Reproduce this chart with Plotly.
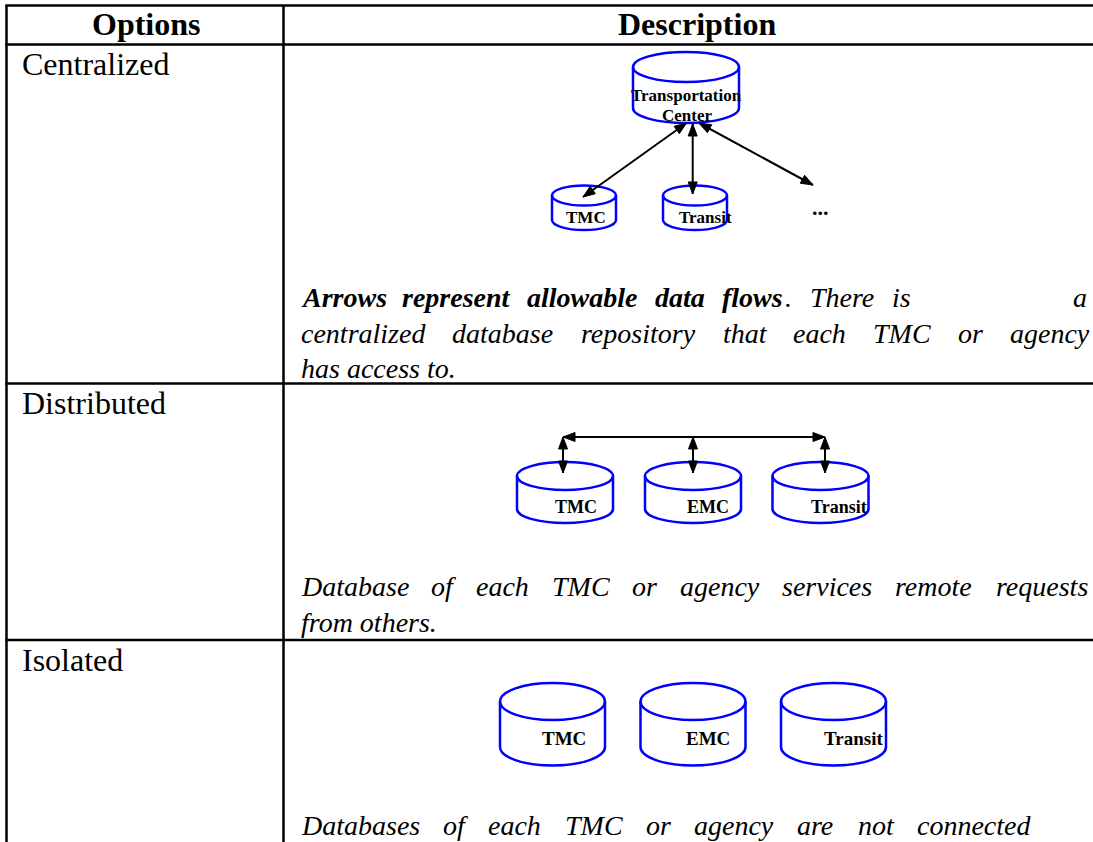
import math
import plotly.graph_objects as go

# ---------------- content ----------------
HEADERS = ["Options", "Description"]
OPTIONS = ["Centralized", "Distributed", "Isolated"]
HUB_LINES = ["Transportation", "Center"]
CENTRAL_NODES = ["TMC", "Transit", "..."]
DIST_NODES = ["TMC", "EMC", "Transit"]
ISO_NODES = ["TMC", "EMC", "Transit"]
CENTRAL_BOLD = ["Arrows", "represent", "allowable", "data", "flows"]
CENTRAL_L1_TAIL = [".", "There", "is"]
CENTRAL_L1_LAST = "a"
CENTRAL_L2 = "centralized database repository that each TMC or agency"
CENTRAL_L3 = "has access to."
DIST_L1 = "Database of each TMC or agency services remote requests"
DIST_L2 = "from others."
ISO_L1 = "Databases of each TMC or agency are not connected"

W, H = 1093, 842
BLUE = "#0000ff"
SERIF = "Liberation Serif"

# Times metrics (per 1000 em) used to lay out justified italic text
IT = dict(a=500, b=500, c=444, d=500, e=444, f=278, g=500, h=500, i=278, l=278,
          m=722, n=500, o=500, p=500, q=500, r=389, s=389, t=278, u=500, v=444,
          w=667, y=444, z=389, A=611, C=667, D=722, M=833, T=556)
IT["."] = 250
BI = dict(A=667, r=389, o=500, w=667, s=389, e=444, p=500, n=556, t=278, a=500,
          l=278, b=500, d=500, f=333)


def tw(word, table, size):
    return sum(table.get(ch, 500) for ch in word) / 1000.0 * size


shapes = []
annotations = []


def line(x0, y0, x1, y1, color="black", width=2.5):
    shapes.append(dict(type="line", x0=x0, y0=y0, x1=x1, y1=y1, xref="x", yref="y",
                       line=dict(color=color, width=width)))


def text(x, y, s, size, bold=False, italic=False, xanchor="center"):
    t = s
    if bold:
        t = "<b>" + t + "</b>"
    if italic:
        t = "<i>" + t + "</i>"
    annotations.append(dict(x=x, y=y, xref="x", yref="y", text=t, showarrow=False,
                            xanchor=xanchor, yanchor="middle", borderpad=0,
                            font=dict(family=SERIF, size=size, color="black")))


def arrow_head(tx, ty, fx, fy, L=12, hw=4.5):
    dx, dy = tx - fx, ty - fy
    n = math.hypot(dx, dy)
    ux, uy = dx / n, dy / n
    bx, by = tx - ux * L, ty - uy * L
    px, py = -uy * hw, ux * hw
    path = f"M {tx},{ty} L {bx+px},{by+py} L {bx-px},{by-py} Z"
    shapes.append(dict(type="path", path=path, xref="x", yref="y",
                       fillcolor="black", line=dict(color="black", width=1)))


def dbl_arrow(x0, y0, x1, y1, width=2):
    line(x0, y0, x1, y1, width=width)
    arrow_head(x1, y1, x0, y0)
    arrow_head(x0, y0, x1, y1)


def cylinder(cx, top_cy, bot_cy, rx, ry, width=2.5):
    shapes.append(dict(type="circle", x0=cx - rx, x1=cx + rx, y0=top_cy - ry, y1=top_cy + ry,
                       xref="x", yref="y", line=dict(color=BLUE, width=width)))
    k = 0.5523
    path = (f"M {cx-rx},{top_cy} L {cx-rx},{bot_cy} "
            f"C {cx-rx},{bot_cy+k*ry} {cx-k*rx},{bot_cy+ry} {cx},{bot_cy+ry} "
            f"C {cx+k*rx},{bot_cy+ry} {cx+rx},{bot_cy+k*ry} {cx+rx},{bot_cy} "
            f"L {cx+rx},{top_cy}")
    shapes.append(dict(type="path", path=path, xref="x", yref="y",
                       line=dict(color=BLUE, width=width)))


# ---------------- table grid ----------------
LEFT, DIV = 6.5, 283.5
ROW_LINES = [5.5, 44.5, 383.5, 640]
for yy in ROW_LINES:
    line(LEFT - 1.2, yy, W, yy)
line(LEFT, 5.5, LEFT, H)
line(DIV, 5.5, DIV, H)

# headers
text(146, 24, HEADERS[0], 32, bold=True)
text(697, 24, HEADERS[1], 32, bold=True)

# option labels
for lab, sep in zip(OPTIONS, ROW_LINES[1:]):
    text(21, sep + 19.5, lab, 32, xanchor="left")

# ---------------- italic descriptions ----------------
IS = 28
TL, TR = 300, 1088


def justified(words, y, right=TR, justify=True):
    ws = [tw(w, IT, IS) for w in words]
    if justify and len(words) > 1:
        gap = (right - TL - sum(ws)) / (len(words) - 1)
    else:
        gap = 0.25 * IS
    x = TL
    for w, wd in zip(words, ws):
        text(x, y, w, IS, italic=True, xanchor="left")
        x += wd + gap


# Centralized line 1
bw = [tw(w, BI, IS) for w in CENTRAL_BOLD]
tail_w = [tw(w, IT, IS) for w in CENTRAL_L1_TAIL]
g = (910 - TL - sum(bw) - sum(tail_w) - 3) / 6
x = TL
for w, wd in zip(CENTRAL_BOLD, bw):
    text(x, 297, w, IS, bold=True, italic=True, xanchor="left")
    x += wd + g
x = x - g + 3
for w, wd in zip(CENTRAL_L1_TAIL, tail_w):
    text(x, 297, w, IS, italic=True, xanchor="left")
    x += wd + g
text(TR, 297, CENTRAL_L1_LAST, IS, italic=True, xanchor="right")
justified(CENTRAL_L2.split(), 333)
justified([CENTRAL_L3], 368, justify=False)

justified(DIST_L1.split(), 586)
justified([DIST_L2], 622, justify=False)
justified(ISO_L1.split(), 825, right=1030)

# ---------------- diagrams ----------------
# Centralized
cylinder(686, 67, 108, 53, 15)
text(686, 95, HUB_LINES[0], 17, bold=True)
text(687, 115, HUB_LINES[1], 17, bold=True)
cylinder(584, 195.5, 220, 32, 10)
cylinder(695, 195.5, 220, 32, 10)
text(586, 217, CENTRAL_NODES[0], 17, bold=True)
text(705, 217, CENTRAL_NODES[1], 17, bold=True)
text(820, 207, CENTRAL_NODES[2], 22, bold=True)
dbl_arrow(686.5, 123, 583, 197)
dbl_arrow(692.7, 124, 692.7, 194)
dbl_arrow(699, 123, 813, 185)

# Distributed
dist_cx = [565, 693, 820.5]
dist_tx = [576, 707.5, 838.5]
for cx, tx, lab in zip(dist_cx, dist_tx, DIST_NODES):
    cylinder(cx, 476, 509, 48, 14)
    text(tx, 507, lab, 18, bold=True)
dbl_arrow(563, 437, 825, 437)
for ax in [563, 693, 825]:
    dbl_arrow(ax, 437, ax, 473)

# Isolated
iso_cx = [552.5, 693, 833.5]
iso_tx = [564, 708, 853]
for cx, tx, lab in zip(iso_cx, iso_tx, ISO_NODES):
    cylinder(cx, 701.5, 747, 52.5, 18.5)
    text(tx, 738, lab, 19, bold=True)

fig = go.Figure()
fig.update_layout(
    width=W, height=H, autosize=False,
    margin=dict(l=0, r=0, t=0, b=0, pad=0),
    paper_bgcolor="white", plot_bgcolor="white",
    xaxis=dict(range=[0, W], visible=False, fixedrange=True),
    yaxis=dict(range=[H, 0], visible=False, fixedrange=True),
    shapes=shapes, annotations=annotations, showlegend=False,
)
fig.write_html(
    "out.html",
    config={"displayModeBar": False},
    post_script="document.body.style.margin='0';document.body.style.overflow='hidden';",
)
